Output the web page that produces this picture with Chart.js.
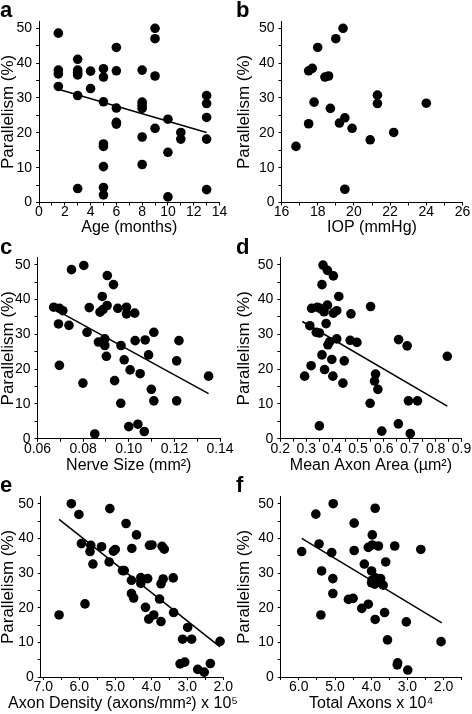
<!DOCTYPE html>
<html>
<head>
<meta charset="utf-8">
<script src="https://cdn.jsdelivr.net/npm/chart.js@4/dist/chart.umd.min.js"></script>
<style>
  body { margin: 0; background: #fff; }
  #fig { position: relative; width: 472px; height: 714px; overflow: hidden; }
  #fig canvas { position: absolute; }
</style>
</head>
<body>
<div id="fig">
  <canvas id="cf" style="left:236px;top:476px"></canvas>
  <canvas id="ce" style="left:0px;top:476px"></canvas>
  <canvas id="cd" style="left:236px;top:238px"></canvas>
  <canvas id="cc" style="left:0px;top:238px"></canvas>
  <canvas id="cb" style="left:236px;top:0px"></canvas>
  <canvas id="ca" style="left:0px;top:0px"></canvas>
</div>
<script>
// Parallelism (%) en fonction de chaque variable
const parTicks = [0, 10, 20, 30, 40, 50];

// a - age
const ageTicks = [0, 2, 4, 6, 8, 10, 12, 14];
const ageX = [1.5, 1.5, 1.5, 1.5, 3, 3, 3, 3, 3, 3, 4, 4, 5, 5, 5, 5, 5, 5, 5, 5,
  6, 6, 6, 6, 6, 8, 8, 8, 8, 8, 8, 9, 9, 9, 9, 10, 10, 10, 11, 11, 13, 13, 13, 13, 13];
const ageY = [48.6, 38.0, 36.9, 33.3, 41.1, 38.0, 37.3, 36.6, 30.7, 4.0, 37.7, 32.7,
  38.4, 36.0, 28.9, 16.8, 16.1, 10.3, 4.3, 2.2, 44.5, 37.8, 27.1, 23.0, 22.5,
  38.0, 28.8, 27.9, 27.0, 18.8, 10.9, 50.0, 47.0, 36.3, 21.3, 23.9, 14.4, 1.6,
  20.1, 18.2, 30.7, 28.4, 24.4, 18.2, 3.7];
const ageFitX = [1.5, 13];
const ageFitY = [32.5, 20.1];

// b - IOP
const iopTicks = [16, 18, 20, 22, 24, 26];
const iopX = [16.8, 17.5, 17.5, 17.7, 17.8, 18.0, 18.4, 18.6, 18.7, 19.0,
  19.2, 19.4, 19.5, 19.5, 19.9, 20.9, 21.3, 21.3, 22.2, 24.0];
const iopY = [16.1, 22.6, 37.8, 38.5, 28.8, 44.5, 36.0, 36.3, 27.0, 47.0,
  22.8, 50.0, 24.3, 3.8, 21.3, 18.0, 30.8, 28.4, 20.1, 28.5];

// c - nerve size
const nerveTicks = [0.06, 0.08, 0.10, 0.12, 0.14];
const nerveX = [0.0749, 0.0803, 0.0906, 0.0933, 0.0884, 0.0671, 0.0696, 0.0711, 0.0827,
  0.0874, 0.0887, 0.0905, 0.0952, 0.0990, 0.0990, 0.1026, 0.0692, 0.0738, 0.0817,
  0.1110, 0.0895, 0.0867, 0.0895, 0.1028, 0.1072, 0.1220, 0.0966, 0.0902, 0.1087,
  0.0980, 0.1210, 0.0696, 0.0799, 0.0938, 0.1006, 0.1050, 0.1099, 0.1110, 0.1210,
  0.0965, 0.1000, 0.1040, 0.1068, 0.0851, 0.1350];
const nerveY = [48.6, 49.8, 46.9, 44.3, 40.9, 37.8, 37.5, 36.8, 37.7, 36.4, 37.1, 38.3,
  37.5, 37.8, 35.9, 36.1, 33.0, 32.6, 30.6, 30.6, 28.7, 27.8, 26.8, 28.2, 28.4, 28.2,
  26.8, 23.7, 24.1, 22.7, 22.4, 21.1, 16.0, 16.7, 19.8, 18.7, 14.2, 10.9, 10.9, 10.2,
  3.5, 4.2, 2.1, 1.4, 18.0];
const nerveFitX = [0.067, 0.135];
const nerveFitY = [37.4, 13.0];

// d - mean axon area
const areaTicks = [0.2, 0.3, 0.4, 0.5, 0.6, 0.7, 0.8, 0.9];
const areaX = [0.365, 0.382, 0.405, 0.361, 0.426, 0.321, 0.343, 0.353, 0.362, 0.382,
  0.369, 0.405, 0.418, 0.473, 0.549, 0.314, 0.377, 0.339, 0.351, 0.418, 0.384, 0.391,
  0.470, 0.496, 0.657, 0.690, 0.361, 0.399, 0.447, 0.319, 0.371, 0.403, 0.294, 0.442,
  0.568, 0.564, 0.577, 0.547, 0.351, 0.592, 0.656, 0.695, 0.730, 0.702, 0.845];
const areaY = [49.9, 48.4, 46.8, 44.3, 40.9, 37.5, 37.8, 37.5, 37.1, 38.4, 36.5, 36.1,
  36.8, 35.9, 38.0, 32.5, 33.1, 30.6, 30.4, 28.7, 27.0, 27.9, 28.3, 27.7, 28.5, 26.7,
  24.1, 22.8, 22.4, 21.0, 19.9, 18.0, 18.0, 16.0, 18.6, 16.6, 14.2, 10.2, 3.7, 2.2,
  4.3, 10.9, 10.9, 1.5, 23.7];
const areaFitX = [0.285, 0.845];
const areaFitY = [33.7, 9.4];

// e - axon density (x 10^5)
const densTicks = [7, 6, 5, 4, 3, 2];
const densX = [6.22, 6.01, 5.15, 4.70, 4.41, 5.94, 5.68, 5.38, 5.70, 5.05, 5.00, 4.54,
  4.05, 3.98, 3.70, 3.64, 5.62, 5.17, 4.80, 4.75, 4.29, 4.10, 4.55, 4.29, 3.67, 3.73,
  3.39, 4.55, 4.49, 3.77, 5.84, 4.16, 3.38, 6.56, 3.93, 4.07, 3.73, 2.99, 3.13, 2.88,
  2.09, 3.20, 3.07, 2.71, 2.53, 2.36];
const densY = [50.0, 46.9, 48.6, 44.3, 41.0, 38.5, 38.0, 37.6, 36.2, 36.3, 36.8, 37.1,
  38.0, 38.1, 37.7, 36.9, 32.6, 33.2, 30.7, 30.7, 28.7, 28.4, 27.9, 27.0, 28.3, 26.9,
  28.6, 24.1, 22.8, 22.5, 21.1, 20.1, 18.6, 17.9, 17.9, 16.7, 16.0, 14.3, 10.9, 10.9,
  10.3, 3.8, 4.3, 2.2, 1.4, 3.9];
const densFitX = [6.56, 2.09];
const densFitY = [45.5, 8.7];

// f - total axons (x 10^4)
const totalTicks = [6, 5, 4, 3, 2];
const totalX = [5.05, 5.53, 3.89, 4.47, 3.97, 5.44, 5.92, 5.09, 4.47, 4.08, 3.97, 3.80,
  3.35, 2.63, 4.19, 3.60, 5.37, 3.99, 5.06, 3.97, 3.88, 3.74, 3.99, 3.90, 3.67, 5.06,
  4.63, 4.50, 4.26, 4.08, 5.39, 3.89, 3.63, 3.03, 3.55, 2.07, 3.27, 3.28, 2.99];
const totalY = [50.0, 47.0, 48.7, 44.4, 41.0, 38.4, 36.2, 35.9, 36.5, 37.4, 38.1, 37.8,
  37.8, 36.8, 32.6, 33.2, 30.6, 30.6, 28.4, 28.0, 28.6, 28.4, 27.2, 26.8, 26.5, 24.1,
  22.4, 22.7, 19.8, 21.0, 17.9, 16.6, 18.6, 15.9, 10.7, 10.2, 4.1, 3.5, 2.0];
const totalFitX = [5.92, 2.05];
const totalFitY = [40.0, 15.6];

const FONT = "'Liberation Sans', Arial, Helvetica, sans-serif";
const H = 238;
const TITRE_PB = 2; // marge sous le titre de l'axe x

function pts(xs, ys) {
  return xs.map((x, i) => ({ x: x, y: ys[i] }));
}

function etiquette(list, dec) {
  return function (v) {
    const hit = list.find(l => Math.abs(l - v) < 1e-6);
    return hit === undefined ? "" : hit.toFixed(dec);
  };
}

// p : géométrie du panneau (coordonnées locales au canvas)
// p.large : titre x plus large que l'axe -> sous-titre pleine largeur
function panneau(id, p) {
  const canvas = document.getElementById(id);
  canvas.width = p.w;
  canvas.height = H;
  const large = !!p.large;
  const titreH = 16 + TITRE_PB;

  const datasets = [{
    data: pts(p.xs, p.ys),
    pointRadius: 4.8,
    pointBackgroundColor: "#000",
    pointBorderWidth: 0,
    showLine: false,
    clip: false
  }];
  if (p.fitX) {
    datasets.push({
      data: pts(p.fitX, p.fitY),
      showLine: true,
      borderColor: "#000",
      borderWidth: 1.5,
      pointRadius: 0,
      fill: false,
      clip: false
    });
  }

  const scales = {
    x: {
      type: "linear",
      min: p.xmin,
      max: p.xmax,
      reverse: !!p.reverse,
      afterFit: s => { s.height = H - p.axe - (large ? titreH : 0); },
      border: { display: true, color: "#000", width: 1 },
      grid: { drawOnChartArea: false, drawTicks: true, tickLength: 3, tickColor: "#000" },
      ticks: {
        stepSize: p.pas,
        includeBounds: false,
        autoSkip: false,
        maxRotation: 0,
        maxTicksLimit: 100,
        padding: 0,
        color: "#000",
        font: { family: FONT, size: 14, lineHeight: 1 },
        callback: etiquette(p.ticks, p.dec)
      },
      title: {
        display: !large,
        text: p.titre,
        color: "#000",
        padding: { top: 0, bottom: TITRE_PB },
        font: { family: FONT, size: 16, lineHeight: 1 }
      }
    },
    y: {
      type: "linear",
      min: 0,
      max: 52,
      afterFit: s => { s.width = p.left; },
      border: { display: true, color: "#000", width: 1 },
      grid: { drawOnChartArea: false, drawTicks: true, tickLength: 3, tickColor: "#000" },
      ticks: {
        stepSize: 5,
        includeBounds: false,
        autoSkip: false,
        maxTicksLimit: 100,
        padding: 4,
        color: "#000",
        font: { family: FONT, size: 14, lineHeight: 1 },
        callback: etiquette(parTicks, 0)
      },
      title: {
        display: true,
        text: "Parallelism (%)",
        color: "#000",
        padding: { top: 0, bottom: 0 },
        font: { family: FONT, size: 17, lineHeight: 1 }
      }
    }
  };

  if (large) {
    // axe vide à droite pour réserver la marge, le titre prend toute la largeur
    scales.marge = {
      type: "linear",
      position: "right",
      display: true,
      afterFit: s => { s.width = p.w - p.right; },
      border: { display: false },
      grid: { display: false },
      ticks: { display: false }
    };
  }

  return new Chart(canvas, {
    type: "scatter",
    data: { datasets: datasets },
    options: {
      responsive: false,
      animation: false,
      events: [],
      layout: { padding: { left: 0, right: large ? 0 : p.w - p.right, top: 0, bottom: 0 } },
      plugins: {
        legend: { display: false },
        tooltip: { enabled: false },
        title: {
          display: true,
          text: p.lettre,
          align: "start",
          color: "#000",
          padding: 0,
          font: { family: FONT, size: 22, weight: "bold", lineHeight: p.top / 22 }
        },
        subtitle: {
          display: large,
          position: "bottom",
          text: p.titre,
          color: "#000",
          padding: { top: 0, bottom: TITRE_PB },
          font: { family: FONT, size: 16, lineHeight: 1 }
        }
      },
      scales: scales
    }
  });
}

panneau("ca", { lettre: "a", w: 236, left: 39, right: 219.5, top: 21.3, axe: 202.5,
  xmin: 0, xmax: 14, pas: 1, ticks: ageTicks, dec: 0, titre: "Age (months)",
  xs: ageX, ys: ageY, fitX: ageFitX, fitY: ageFitY });

panneau("cb", { lettre: "b", w: 236, left: 45.5, right: 226.5, top: 21.3, axe: 202.5,
  xmin: 16, xmax: 26, pas: 1, ticks: iopTicks, dec: 0, titre: "IOP (mmHg)",
  xs: iopX, ys: iopY });

panneau("cc", { lettre: "c", w: 236, left: 37.5, right: 220, top: 19.8, axe: 200.8,
  xmin: 0.06, xmax: 0.14, pas: 0.01, ticks: nerveTicks, dec: 2, titre: "Nerve Size (mm\u00b2)",
  xs: nerveX, ys: nerveY, fitX: nerveFitX, fitY: nerveFitY });

panneau("cd", { lettre: "d", w: 236, left: 44.3, right: 225.5, top: 19.8, axe: 200.8,
  xmin: 0.2, xmax: 0.9, pas: 0.05, ticks: areaTicks, dec: 1, titre: "Mean Axon Area (\u00b5m\u00b2)",
  xs: areaX, ys: areaY, fitX: areaFitX, fitY: areaFitY });

panneau("ce", { lettre: "e", w: 246, left: 40.7, right: 223.3, top: 20.8, axe: 201, large: true,
  xmin: 2, xmax: 7.07, reverse: true, pas: 0.5, ticks: densTicks, dec: 1,
  titre: "Axon Density (axons/mm\u00b2) x 10\u2075",
  xs: densX, ys: densY, fitX: densFitX, fitY: densFitY });

panneau("cf", { lettre: "f", w: 236, left: 44.7, right: 225.7, top: 20.8, axe: 201,
  xmin: 1.5, xmax: 6.5, reverse: true, pas: 0.5, ticks: totalTicks, dec: 1,
  titre: "Total Axons x 10\u2074",
  xs: totalX, ys: totalY, fitX: totalFitX, fitY: totalFitY });
</script>
</body>
</html>
